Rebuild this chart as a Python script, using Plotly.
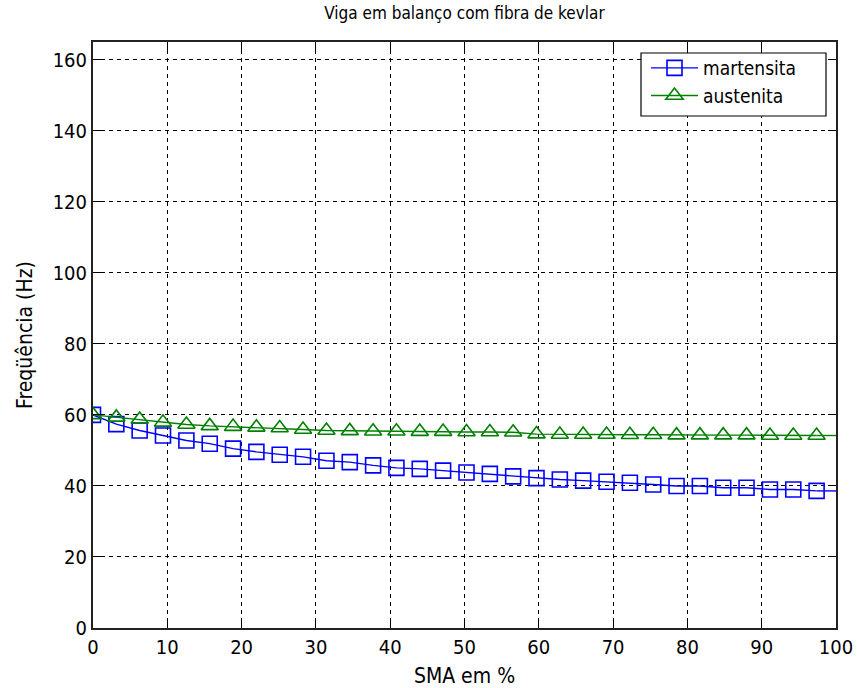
import plotly.graph_objects as go

# Data
sma_pct = [0.0, 3.14, 6.28, 9.42, 12.57, 15.71, 18.85, 21.99, 25.13, 28.27, 31.42,
           34.56, 37.70, 40.84, 43.98, 47.12, 50.27, 53.41, 56.55, 59.69, 62.83,
           65.97, 69.12, 72.26, 75.40, 78.54, 81.68, 84.82, 87.96, 91.11, 94.25,
           97.39, 100.0]

martensita = [60.0, 57.4, 55.6, 54.2, 52.8, 51.9, 50.5, 49.6, 48.8, 48.2, 47.1,
              46.7, 45.8, 45.1, 44.8, 44.3, 43.8, 43.4, 42.7, 42.2, 41.8,
              41.5, 41.2, 40.9, 40.4, 40.0, 40.0, 39.5, 39.5, 39.0, 39.0,
              38.6, 38.6]

austenita = [60.0, 59.3, 58.7, 57.9, 57.3, 56.9, 56.7, 56.5, 56.3, 55.9, 55.6,
             55.5, 55.4, 55.4, 55.3, 55.3, 55.2, 55.2, 55.1, 54.6, 54.5,
             54.5, 54.5, 54.4, 54.4, 54.3, 54.3, 54.3, 54.3, 54.2, 54.2,
             54.2, 54.2]

x_ticks = [0, 10, 20, 30, 40, 50, 60, 70, 80, 90, 100]
y_ticks = [0, 20, 40, 60, 80, 100, 120, 140, 160]

FONT = "Liberation Sans Narrow, Arial Narrow, DejaVu Sans Condensed, sans-serif"
BLUE = "#0000FF"
GREEN = "#008000"
n_mk = len(sma_pct) - 1

# plot area in pixels
L, R, T, B = 93, 836, 42, 628
PW, PH = R - L, B - T

def px_x(p):
    return (p - L) / PW

def px_y(p):
    return (B - p) / PH

fig = go.Figure()
fig.add_trace(go.Scatter(x=sma_pct[:n_mk], y=martensita[:n_mk], mode="lines+markers",
                         name="martensita",
                         line=dict(color=BLUE, width=1.4),
                         marker=dict(symbol="square-open", size=15, color=BLUE,
                                     line=dict(width=1.6, color=BLUE))))
fig.add_trace(go.Scatter(x=sma_pct[n_mk - 1:], y=martensita[n_mk - 1:], mode="lines",
                         showlegend=False, line=dict(color=BLUE, width=1.4),
                         hoverinfo="skip"))
fig.add_trace(go.Scatter(x=sma_pct[:n_mk], y=austenita[:n_mk], mode="lines+markers",
                         name="austenita",
                         line=dict(color=GREEN, width=1.4),
                         marker=dict(symbol="triangle-up-open", size=15, color=GREEN,
                                     line=dict(width=1.6, color=GREEN))))
fig.add_trace(go.Scatter(x=sma_pct[n_mk - 1:], y=austenita[n_mk - 1:], mode="lines",
                         showlegend=False, line=dict(color=GREEN, width=1.4),
                         hoverinfo="skip"))

axis_common = dict(
    showline=True, linecolor="#222222", linewidth=2, mirror="ticks",
    ticks="inside", ticklen=8, tickcolor="black", tickwidth=1.2,
    showgrid=True, gridcolor="black", gridwidth=1, griddash="4px,4px",
    zeroline=False, automargin=False,
    tickfont=dict(family=FONT, size=20, color="black"),
)

fig.update_layout(
    width=857, height=688,
    margin=dict(l=L, r=857 - R, t=T, b=688 - B, autoexpand=False),
    paper_bgcolor="white", plot_bgcolor="white",
    font=dict(family=FONT, color="black", size=20),
    title=dict(text="Viga em balanço com fibra de kevlar", x=0.5, xref="paper",
               xanchor="center", y=1 - 13 / 688, yanchor="middle",
               font=dict(family=FONT, size=17, color="black")),
    xaxis=dict(range=[0, 100], tickvals=x_ticks, ticktext=[str(v) for v in x_ticks],
               title=dict(text="SMA em %", font=dict(family=FONT, size=21), standoff=12),
               **axis_common),
    yaxis=dict(range=[0, 165], tickvals=y_ticks, ticktext=[str(v) for v in y_ticks],
               title=dict(text="Freqüência (Hz)", font=dict(family=FONT, size=21), standoff=14),
               **axis_common),
    shapes=[dict(type="rect", xref="paper", yref="paper",
                 x0=px_x(641), x1=px_x(826), y0=px_y(116), y1=px_y(53),
                 fillcolor="white", line=dict(color="black", width=1.2),
                 layer="above")],
    legend=dict(x=px_x(646), xanchor="left", y=px_y(49), yanchor="top",
                bgcolor="rgba(0,0,0,0)", borderwidth=0,
                font=dict(family=FONT, size=19, color="black"),
                tracegroupgap=0, itemwidth=47),
    showlegend=True,
)

fig.write_html("out.html")
